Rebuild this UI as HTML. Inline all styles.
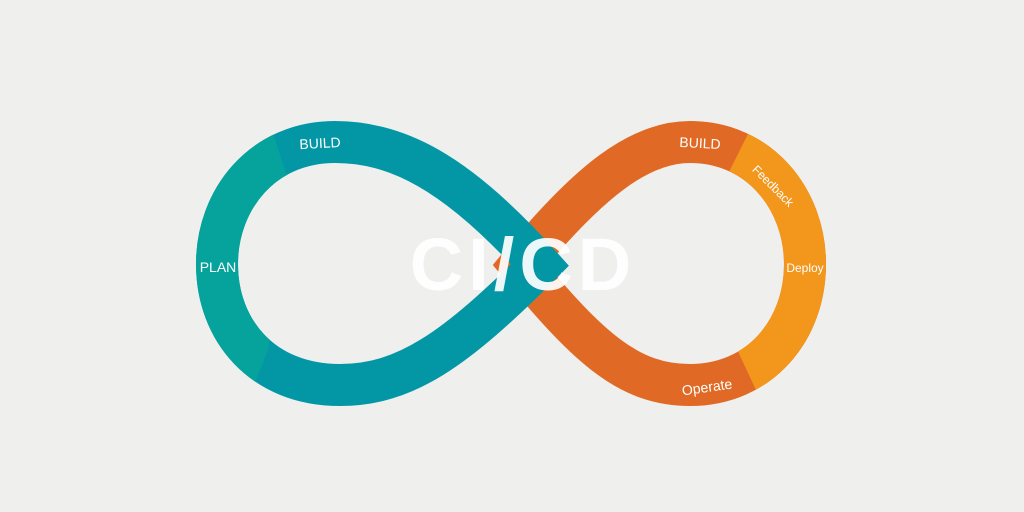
<!DOCTYPE html>
<html><head><style>
html,body{margin:0;padding:0;background:#efefee;}
svg{display:block;}
</style></head><body>
<svg width="1024" height="512" viewBox="0 0 1024 512" xmlns="http://www.w3.org/2000/svg">
<defs>
<clipPath id="rc"><polygon points="765,100 720,190 735,345 770,420 900,420 900,100"/></clipPath>
<clipPath id="lc"><polygon points="262,100 290,185 268,350 240,420 150,420 150,100"/></clipPath>
</defs>
<rect width="1024" height="512" fill="#efefee"/>
<path d="M520 265 C590 180,640 142,690 142 C760 142,805 200,805 264 C805 330,760 385,690 385 C630 385,590 350,520 265 Z" fill="none" stroke="#e06a25" stroke-width="42"/>
<path d="M520 265 C590 180,640 142,690 142 C760 142,805 200,805 264 C805 330,760 385,690 385 C630 385,590 350,520 265 Z" fill="none" stroke="#f2961c" stroke-width="42" clip-path="url(#rc)"/>
<path d="M540 265 C455 170,395 142,335 142 C262 142,217 200,217 264 C217 330,262 385,340 385 C405 385,455 350,540 265 Z" fill="none" stroke="#0397a6" stroke-width="42"/>
<path d="M540 265 C455 170,395 142,335 142 C262 142,217 200,217 264 C217 330,262 385,340 385 C405 385,455 350,540 265 Z" fill="none" stroke="#06a39c" stroke-width="42" clip-path="url(#lc)"/>
<g font-family="Liberation Sans, sans-serif" fill="#fff" font-size="14">
<text x="320" y="148" text-anchor="middle" transform="rotate(-3 320 143)">BUILD</text>
<text x="218" y="272" text-anchor="middle">PLAN</text>
<text x="700" y="148" text-anchor="middle" transform="rotate(3 700 143)">BUILD</text>
<text x="773" y="190" text-anchor="middle" font-size="12" transform="rotate(45 773 186)">Feedback</text>
<text x="805" y="272" text-anchor="middle" font-size="12">Deploy</text>
<text x="707" y="392" text-anchor="middle" transform="rotate(-8 707 387)">Operate</text>
</g>
<text x="523" y="290" text-anchor="middle" font-family="Liberation Sans, sans-serif" font-weight="bold" font-size="74" letter-spacing="5" fill="#ffffff" fill-opacity="0.92">CI/CD</text>
</svg>
</body></html>
